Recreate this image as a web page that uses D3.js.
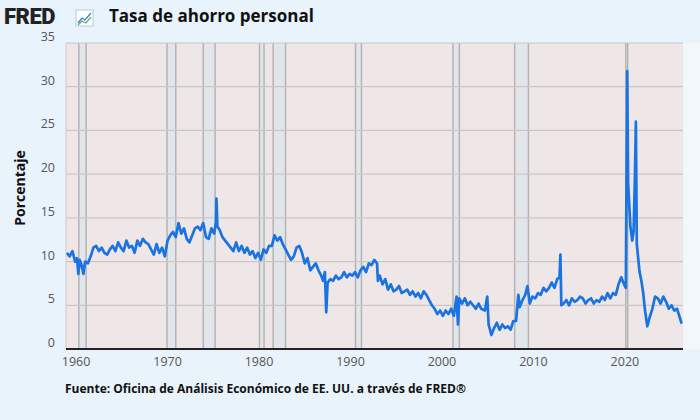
<!DOCTYPE html>
<html>
<head>
<meta charset="utf-8">
<script src="https://cdn.jsdelivr.net/npm/d3@7"></script>
<style>
  body { margin: 0; background: #e9f3fc; }
  svg { display: block; font-family: "Open Sans", "Noto Sans", sans-serif; }
</style>
</head>
<body>
<svg id="chart" width="700" height="420"></svg>
<script>
// decimal year, saving rate (%)
var dates = [1959.0, 1959.3, 1959.6, 1959.9, 1960.1, 1960.25, 1960.4, 1960.6, 1960.8, 1961.0, 1961.3, 1961.6, 1961.9,
  1962.2, 1962.5, 1962.8, 1963.1, 1963.4, 1963.7, 1964.0, 1964.3, 1964.6, 1964.9, 1965.2, 1965.5, 1965.8,
  1966.1, 1966.4, 1966.7, 1967.0, 1967.3, 1967.6, 1967.9, 1968.2, 1968.5, 1968.8, 1969.1, 1969.4, 1969.7,
  1970.0, 1970.3, 1970.6, 1970.9, 1971.2, 1971.5, 1971.8, 1972.1, 1972.4, 1972.7, 1973.0, 1973.3, 1973.6,
  1973.9, 1974.2, 1974.5, 1974.8, 1975.1, 1975.3, 1975.35, 1975.45, 1975.7, 1976.0, 1976.3, 1976.6, 1976.9,
  1977.2, 1977.5, 1977.8, 1978.1, 1978.4, 1978.7, 1979.0, 1979.3, 1979.6, 1979.9, 1980.2, 1980.5, 1980.8,
  1981.1, 1981.4, 1981.7, 1982.0, 1982.3, 1982.6, 1982.9, 1983.2, 1983.5, 1983.8, 1984.1, 1984.4, 1984.7,
  1985.0, 1985.3, 1985.6, 1985.9, 1986.2, 1986.5, 1986.8, 1987.0, 1987.2, 1987.35, 1987.5, 1987.8, 1988.1,
  1988.4, 1988.7, 1989.0, 1989.3, 1989.6, 1989.9, 1990.2, 1990.5, 1990.8, 1991.1, 1991.4, 1991.7, 1992.0,
  1992.3, 1992.6, 1992.9, 1993.0, 1993.2, 1993.5, 1993.8, 1994.1, 1994.4, 1994.7, 1995.0, 1995.3, 1995.6,
  1995.9, 1996.2, 1996.5, 1996.8, 1997.1, 1997.4, 1997.7, 1998.0, 1998.3, 1998.6, 1998.9, 1999.2, 1999.5,
  1999.8, 2000.1, 2000.4, 2000.7, 2001.0, 2001.3, 2001.6, 2001.75, 2001.9, 2002.2, 2002.5, 2002.8, 2003.1,
  2003.4, 2003.7, 2004.0, 2004.3, 2004.7, 2004.95, 2005.1, 2005.4, 2005.7, 2006.0, 2006.3, 2006.6, 2006.9,
  2007.2, 2007.5, 2007.8, 2008.1, 2008.35, 2008.5, 2008.8, 2009.1, 2009.35, 2009.6, 2009.9, 2010.2, 2010.5,
  2010.8, 2011.1, 2011.4, 2011.7, 2012.0, 2012.3, 2012.6, 2012.85, 2012.95, 2013.05, 2013.3, 2013.6, 2013.9,
  2014.2, 2014.5, 2014.8, 2015.1, 2015.4, 2015.7, 2016.0, 2016.3, 2016.6, 2016.9, 2017.2, 2017.5, 2017.8,
  2018.1, 2018.4, 2018.7, 2019.0, 2019.3, 2019.6, 2019.9, 2020.1, 2020.25, 2020.35, 2020.45, 2020.6, 2020.8,
  2020.95, 2021.1, 2021.2, 2021.3, 2021.45, 2021.6, 2021.8, 2022.0, 2022.2, 2022.45, 2022.7, 2023.0, 2023.3,
  2023.6, 2023.9, 2024.2, 2024.5, 2024.8, 2025.1, 2025.4, 2025.7, 2026.0, 2026.2];
var rates = [11.0, 10.6, 11.2, 10.0, 10.4, 8.6, 10.2, 9.6, 8.6, 10.0, 9.8, 10.6, 11.6,
  11.8, 11.2, 11.6, 11.0, 10.8, 11.4, 11.8, 11.2, 12.2, 11.6, 11.2, 12.4, 11.6,
  11.8, 11.0, 12.4, 11.8, 12.6, 12.2, 12.0, 11.4, 10.8, 12.0, 11.0, 11.6, 10.6,
  12.4, 13.0, 13.4, 12.8, 14.4, 13.2, 13.8, 12.6, 12.2, 13.0, 13.8, 14.0, 13.6,
  14.4, 12.8, 12.6, 13.8, 13.2, 14.6, 17.2, 14.0, 13.6, 12.8, 12.4, 12.0, 11.6,
  11.2, 12.2, 11.2, 11.8, 11.0, 11.6, 10.8, 11.2, 10.4, 11.0, 10.2, 11.4, 11.0,
  11.8, 11.8, 13.0, 12.4, 12.8, 12.0, 11.4, 10.8, 10.2, 10.6, 11.6, 11.8, 11.0,
  9.8, 10.4, 9.0, 9.4, 9.8, 9.0, 8.4, 7.8, 8.8, 4.2, 7.6, 8.0, 7.8,
  8.4, 8.0, 8.2, 8.8, 8.2, 8.6, 8.4, 8.8, 8.2, 9.0, 9.4, 8.8, 9.8,
  9.6, 10.2, 9.8, 7.8, 8.4, 7.4, 8.0, 6.8, 7.4, 6.6, 6.8, 7.2, 6.4,
  6.6, 6.8, 6.2, 6.6, 6.0, 6.4, 5.8, 6.6, 6.2, 5.6, 5.0, 4.6, 4.0,
  4.4, 3.8, 4.4, 4.0, 4.6, 3.8, 6.0, 2.8, 5.8, 5.2, 5.8, 5.0, 5.4,
  5.0, 4.6, 5.2, 4.6, 4.4, 6.0, 2.8, 1.6, 2.4, 3.0, 2.2, 2.8, 2.4,
  2.6, 2.2, 3.2, 3.2, 6.2, 4.8, 5.6, 6.2, 7.2, 5.2, 6.0, 5.8, 6.4,
  6.2, 7.0, 6.6, 7.0, 7.6, 7.0, 8.0, 8.2, 10.8, 5.0, 5.2, 5.6, 5.0,
  5.8, 5.4, 5.6, 6.0, 5.8, 5.2, 5.6, 5.8, 5.2, 5.6, 5.4, 6.0, 5.6,
  6.4, 5.8, 6.4, 6.2, 7.4, 8.2, 7.4, 7.0, 31.8, 19.0, 17.0, 14.0, 12.4,
  13.4, 20.0, 26.0, 12.0, 10.4, 8.8, 7.8, 6.4, 4.4, 2.6, 3.6, 4.6, 6.0,
  5.8, 5.2, 6.0, 5.4, 4.6, 5.0, 4.4, 4.6, 3.6, 2.9];
var recessions = [[1960.3, 1961.1], [1969.95, 1970.9], [1973.9, 1975.2], [1980.05, 1980.55],
  [1981.55, 1982.9], [1990.55, 1991.2], [2001.2, 2001.9], [2007.95, 2009.45], [2020.1, 2020.3]];
var yTicks = [0, 5, 10, 15, 20, 25, 30, 35];
var xTicks = [1960, 1970, 1980, 1990, 2000, 2010, 2020];

var svg = d3.select('#chart'),
  plot = {left: 66, right: 683, top: 43, bottom: 349},
  x = d3.scaleLinear().domain([1958.9, 2026.35]).range([plot.left, plot.right]),
  y = d3.scaleLinear().domain([0, 35]).range([plot.bottom, plot.top]);

// light strip at right edge
svg.append('rect').attr('x', plot.right).attr('y', plot.top).attr('width', 700 - plot.right)
  .attr('height', plot.bottom - plot.top).attr('fill', '#f2f7fc');

svg.append('rect')
  .attr('x', plot.left).attr('y', plot.top)
  .attr('width', plot.right - plot.left).attr('height', plot.bottom - plot.top)
  .attr('fill', '#efe7e7');

// recession bands
var rec = svg.append('g').selectAll('g').data(recessions).enter().append('g');
rec.append('rect')
  .attr('x', function (d) { return x(d[0]); })
  .attr('y', plot.top)
  .attr('width', function (d) { return Math.max(1, x(d[1]) - x(d[0])); })
  .attr('height', plot.bottom - plot.top)
  .attr('fill', '#e2e6ea');
rec.selectAll('line').data(function (d) { return d; }).enter().append('line')
  .attr('x1', function (d) { return x(d); }).attr('x2', function (d) { return x(d); })
  .attr('y1', plot.top).attr('y2', plot.bottom)
  .attr('stroke', '#b4b4b4').attr('stroke-width', 1.5);

// horizontal grid
svg.append('g').selectAll('line').data(yTicks.slice(1)).enter().append('line')
  .attr('x1', plot.left).attr('x2', plot.right)
  .attr('y1', function (d) { return y(d); }).attr('y2', function (d) { return y(d); })
  .attr('stroke', '#cbc6c6').attr('stroke-width', 1.2);

svg.append('line').attr('x1', plot.left).attr('x2', plot.left)
  .attr('y1', plot.top).attr('y2', plot.bottom).attr('stroke', '#cfcaca');

svg.append('g').selectAll('text').data(yTicks).enter().append('text')
  .attr('x', 55).attr('y', function (d) { return y(d) - 2; })
  .attr('text-anchor', 'end').attr('font-size', 12.5).attr('fill', '#555')
  .text(function (d) { return d; });

svg.append('g').selectAll('text').data(xTicks).enter().append('text')
  .attr('x', function (d) { return x(d); }).attr('y', 366)
  .attr('text-anchor', 'middle').attr('font-size', 12.5).attr('fill', '#555')
  .text(function (d) { return d; });

var line = d3.line()
  .x(function (d, i) { return x(dates[i]); })
  .y(function (d) { return y(d); });
svg.append('path').datum(rates)
  .attr('d', line).attr('fill', 'none')
  .attr('stroke', '#1a73e0').attr('stroke-width', 2.7).attr('stroke-linejoin', 'round');

svg.append('line').attr('x1', plot.left).attr('x2', plot.right)
  .attr('y1', plot.bottom).attr('y2', plot.bottom)
  .attr('stroke', '#222').attr('stroke-width', 2);

// header
svg.append('text').attr('x', 4).attr('y', 24).attr('font-family', 'Roboto, sans-serif')
  .attr('font-weight', 900).attr('font-size', 22).attr('letter-spacing', -0.5).attr('fill', '#222').text('FRED');
var icon = svg.append('g').attr('transform', 'translate(76,10)');
icon.append('rect').attr('width', 17).attr('height', 16).attr('fill', '#fff').attr('stroke', '#b9c8d8');
icon.append('path').attr('d', 'M2,13 L6,8 L9,10 L15,3').attr('fill', 'none').attr('stroke', '#3a7bd5').attr('stroke-width', 1.3);
icon.append('path').attr('d', 'M2,15 L6,11 L10,13 L15,7').attr('fill', 'none').attr('stroke', '#5ab36b').attr('stroke-width', 1.3);
svg.append('text').attr('x', 109).attr('y', 22).attr('font-weight', 700).attr('font-size', 17)
  .attr('fill', '#111').text('Tasa de ahorro personal');

svg.append('text').attr('transform', 'translate(25,188) rotate(-90)').attr('text-anchor', 'middle')
  .attr('font-weight', 700).attr('font-size', 14).attr('fill', '#111').text('Porcentaje');

svg.append('text').attr('x', 65).attr('y', 393).attr('font-weight', 700).attr('font-size', 12)
  .attr('fill', '#111').text('Fuente: Oficina de Análisis Económico de EE. UU. a través de FRED®');
</script>
</body>
</html>
